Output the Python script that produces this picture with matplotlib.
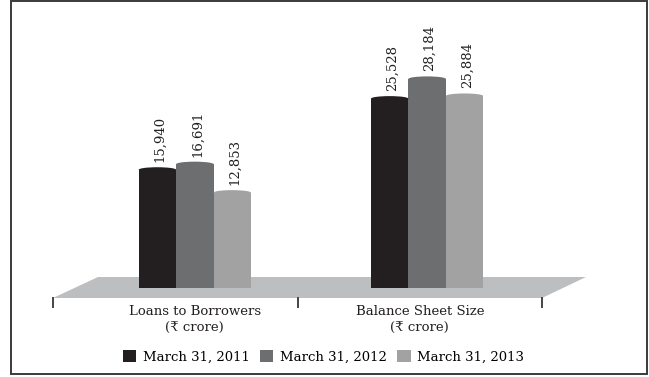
import matplotlib
matplotlib.use("Agg")
import matplotlib.pyplot as plt
from matplotlib.patches import Ellipse, Polygon, Rectangle, Patch

plt.rcParams['font.family'] = ['DejaVu Serif', 'DejaVu Sans', 'Noto Sans']

# data (₹ crore)
categories = ['Loans to Borrowers\n(₹ crore)', 'Balance Sheet Size\n(₹ crore)']
years = ['March 31, 2011', 'March 31, 2012', 'March 31, 2013']
values = {
    'March 31, 2011': [15940, 25528],
    'March 31, 2012': [16691, 28184],
    'March 31, 2013': [12853, 25884],
}
colors = ['#231f20', '#6d6e70', '#a2a2a3']
floor_color = '#bdbec0'

group_x = [0.58, 1.53]
label_x = [0.58, 1.50]
bar_w = 0.153
cap_h = 680  # height of the cylinder cap ellipse, in data units

fig = plt.figure(figsize=(6.49, 3.77), dpi=100)
W, H = 649, 377

# frame round the whole chart
fig.patches.append(Rectangle((11 / W, 3 / H), 636 / W, 373 / H, transform=fig.transFigure,
                             fill=False, edgecolor='#3a3a3a', linewidth=1.4))

ax = fig.add_axes([53 / W, (H - 288) / H, 489 / W, 250 / H])
ax.set_xlim(0, 2)
ax.set_ylim(0, 33700)
ax.axis('off')

# floor plane
floor = Polygon([(0, -0.04), (1.0, -0.04), (1.09, 0.044), (0.092, 0.044)],
                closed=True, transform=ax.transAxes, facecolor=floor_color,
                edgecolor='none', clip_on=False, zorder=0)
ax.add_patch(floor)

# tick marks under the floor
for tx in [0, 1, 2]:
    ax.plot([tx, tx], [-1350, -2550], color='#444444', lw=1.4, clip_on=False, zorder=1)

for j, yr in enumerate(years):
    xs = [g + (j - 1) * bar_w for g in group_x]
    vals = values[yr]
    ax.bar(xs, vals, width=bar_w, color=colors[j], linewidth=0, zorder=3)
    for x, v in zip(xs, vals):
        ax.add_patch(Ellipse((x, 0), bar_w, cap_h, facecolor=colors[j], edgecolor='none', zorder=2))
        ax.add_patch(Ellipse((x, v), bar_w, cap_h, facecolor=colors[j], edgecolor='none', zorder=4))
        ax.annotate(f'{v:,}', (x, v), xytext=(2, 5.5), textcoords='offset points',
                    rotation=90, ha='center', va='bottom', fontsize=9.5, color='#231f20')

for lx, lab in zip(label_x, categories):
    ax.text(lx, -2250, lab, ha='center', va='top', fontsize=9.5, color='#231f20',
            linespacing=1.4)

handles = [Patch(facecolor=c, edgecolor='none') for c in colors]
fig.legend(handles, years, loc='center', bbox_to_anchor=(323.5 / W, 1 - 357 / H), ncol=3,
           frameon=False, fontsize=9.5, handlelength=1.0, handleheight=1.0,
           handletextpad=0.5, columnspacing=0.8)

fig.savefig('out.png', dpi=100)
